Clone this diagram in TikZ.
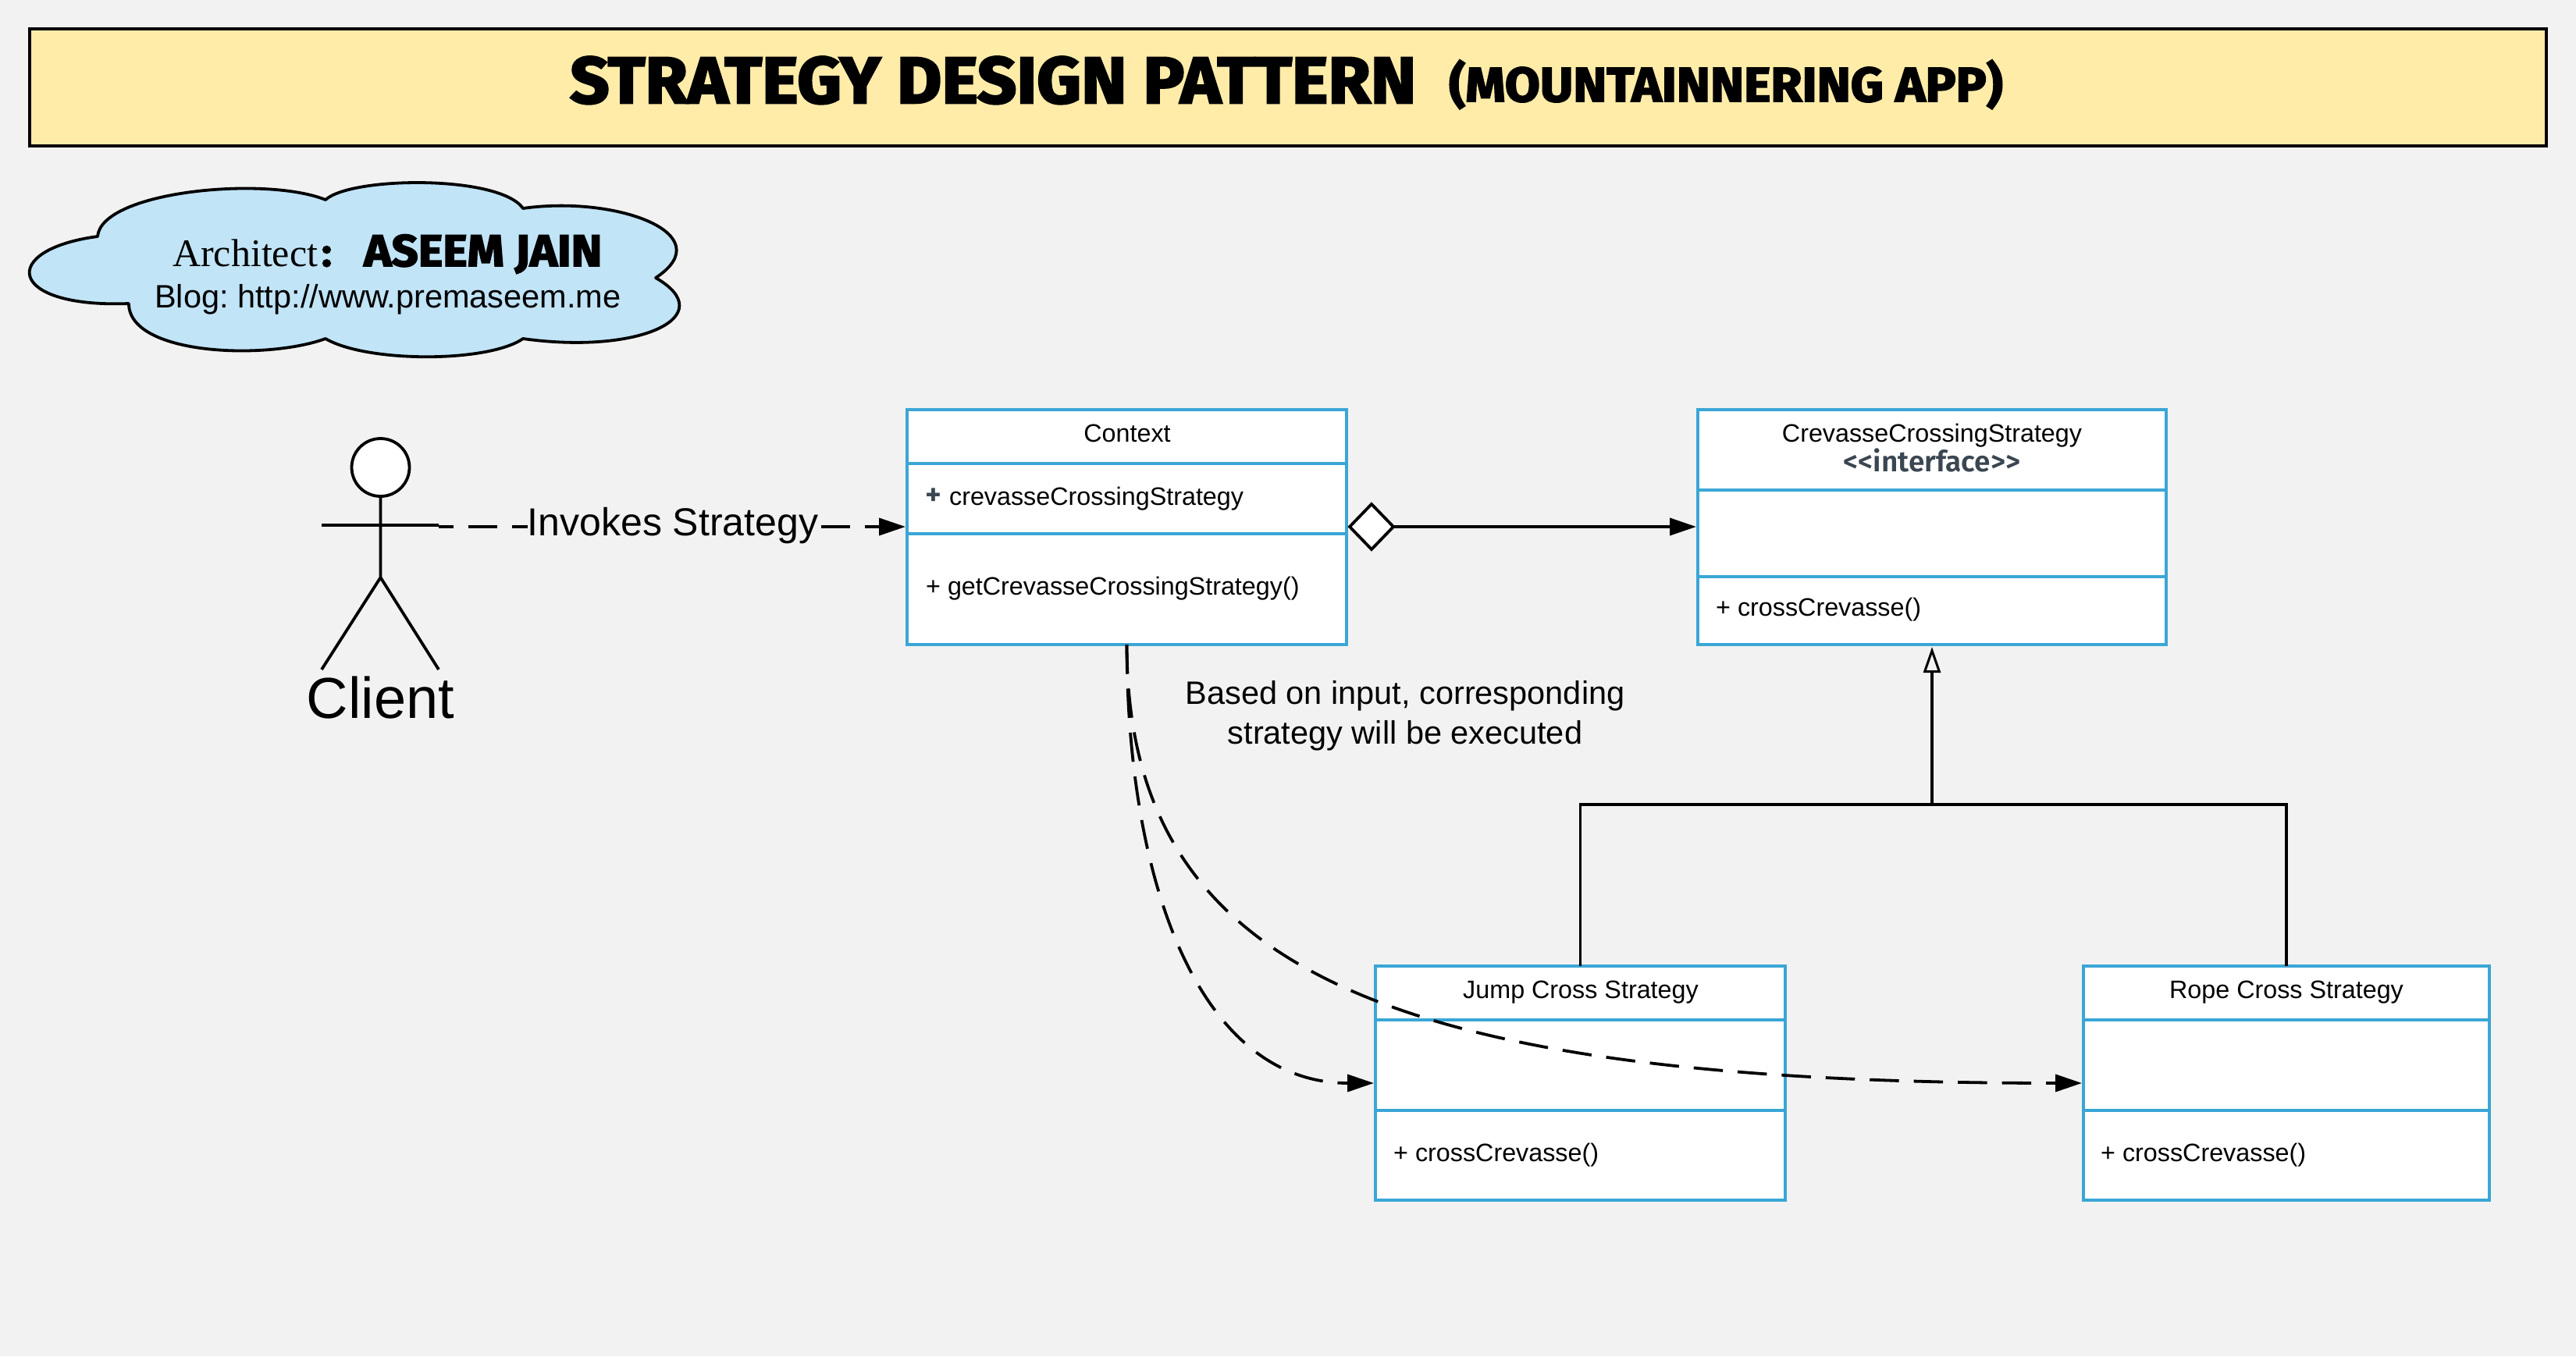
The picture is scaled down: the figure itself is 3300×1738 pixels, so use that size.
\documentclass[tikz,border=0pt]{standalone}
\usepackage{fontspec}
\setmainfont{Liberation Sans}
\newfontfamily\serifface{Liberation Serif}
\newfontfamily\comicface[FakeBold=3,FakeStretch=1.05]{Fira Sans Bold}
\newfontfamily\ifaceface{Fira Sans SemiBold}
\usetikzlibrary{arrows.meta,shapes.geometric}
\definecolor{pagebg}{HTML}{F2F2F2}
\definecolor{titlefill}{HTML}{FFECA9}
\definecolor{cloudfill}{HTML}{C1E4F7}
\definecolor{umlblue}{HTML}{3AA6D6}
\definecolor{slate}{HTML}{3A4651}
\newcommand{\fsz}[1]{\fontsize{#1}{#1}\selectfont}
\tikzset{
  x=1pt,y=-1pt,
  box/.style={draw=umlblue,line width=3.6pt,fill=white,inner sep=0pt,outer sep=0pt,anchor=north west},
  divider/.style={draw=umlblue,line width=3.2pt},
  blackline/.style={draw=black,line width=3.8pt},
  filledhead/.style={-{Triangle[length=34pt,width=22pt]},shorten >=2pt},
  hollowhead/.style={-{Triangle[open,length=33pt,width=22pt,line width=3pt]},shorten >=3pt},
  dashline/.style={blackline,dash pattern=on 37.5pt off 19pt},
  boxtext/.style={inner sep=0pt,anchor=base,font=\fsz{32.3}},
  leftboxtext/.style={boxtext,anchor=base west},
  notetext/.style={inner sep=0pt,anchor=base,font=\fsz{41.5}},
}
\begin{document}
\frenchspacing
\begin{tikzpicture}
\useasboundingbox (0,0) rectangle (3300,1738);
\fill[pagebg] (0,0) rectangle (3300,1738);
% title
\node[draw=black,line width=3.6pt,fill=titlefill,minimum width=3224pt,minimum height=150pt,inner sep=0pt,outer sep=0pt,anchor=north west] (title) at (38,37) {};
\node[inner sep=0pt,anchor=base west,font=\comicface\fsz{84}] (t1) at (730,132) {STRATEGY DESIGN PATTERN};
\node[inner sep=0pt,anchor=base west,font=\comicface\fsz{62}] (t2) at (1856,130) {(MOUNTAINNERING APP)};
% cloud
\draw[blackline,fill=cloudfill,line join=round]
  (125,303) .. controls (130,245) and (340,225) .. (417,256)
  .. controls (450,226) and (640,224) .. (670,267)
  .. controls (790,250) and (925,300) .. (840,356)
  .. controls (925,405) and (820,455) .. (670,434)
  .. controls (625,465) and (470,465) .. (417,434)
  .. controls (340,462) and (165,455) .. (165,389)
  .. controls (8,395) and (-2,320) .. (125,303) -- cycle;
\node[inner sep=0pt,anchor=base west,font=\serifface\fsz{50}] (arch) at (221,341) {Architect};
\node[inner sep=0pt,anchor=base west,font=\comicface\fsz{50}] (colon) at (412,341) {:};
\node[inner sep=0pt,anchor=base west,font=\comicface\fsz{57}] (jain) at (466,341) {ASEEM JAIN};
\node[inner sep=0pt,anchor=base west,font=\fsz{41.5}] (blog) at (198,394) {Blog: http://www.premaseem.me};
% client
\node[draw=black,line width=3.8pt,fill=white,circle,minimum size=74pt,inner sep=0pt,outer sep=0pt] (head) at (487.5,599) {};
\coordinate (hip) at (487.5,740);
\coordinate (armL) at (412,673);
\coordinate (armR) at (562,673);
\coordinate (legL) at (412,858);
\coordinate (legR) at (562,858);
\draw[blackline] (head.south) -- (hip) (armL) -- (armR) (legL) -- (hip) -- (legR);
\node[inner sep=0pt,anchor=base,font=\fsz{74}] (client) at (487.5,920) {Client};
% context
\node[box,minimum width=563pt,minimum height=301pt] (ctx) at (1162,525) {};
\draw[divider] (1162,594) -- (1725,594) (1162,684) -- (1725,684);
\node[boxtext] (ctxname) at (1444,566) {Context};
\node[leftboxtext] (ctxattr) at (1185,647) {\textcolor{slate}{\ifaceface\fontsize{40}{40}\selectfont +}\kern1pt\ crevasseCrossingStrategy};
\node[leftboxtext] (ctxop) at (1186,762) {+ getCrevasseCrossingStrategy()};
% interface
\node[box,minimum width=600pt,minimum height=301pt] (iface) at (2175,525) {};
\draw[divider] (2175,628) -- (2775,628) (2175,739) -- (2775,739);
\node[boxtext] (ifname) at (2475,566) {CrevasseCrossingStrategy};
\node[boxtext,text=slate,font=\ifaceface\fsz{37}] (ifster) at (2475,604) {<<interface>>};
\node[leftboxtext] (ifop) at (2198,789) {+ crossCrevasse()};
% jump
\node[box,minimum width=525pt,minimum height=300pt] (jump) at (1762,1238) {};
\draw[divider] (1762,1307) -- (2287,1307) (1762,1423) -- (2287,1423);
\node[boxtext] (jumpname) at (2025,1279) {Jump Cross Strategy};
\node[leftboxtext] (jumpop) at (1785,1488) {+ crossCrevasse()};
% rope
\node[box,minimum width=520pt,minimum height=300pt] (rope) at (2669,1238) {};
\draw[divider] (2669,1307) -- (3189,1307) (2669,1423) -- (3189,1423);
\node[boxtext] (ropename) at (2929,1279) {Rope Cross Strategy};
\node[leftboxtext] (ropeop) at (2691,1488) {+ crossCrevasse()};
% invoke
\coordinate (invStart) at (562,675);
\draw[dashline,dash phase=19pt,filledhead] (invStart) -- (ctx.west |- invStart);
\node[fill=pagebg,inner sep=0pt,anchor=base,font=\fsz{50}] (inv) at (862,686) {Invokes Strategy};
% aggregation
\node[diamond,draw=black,line width=3.8pt,fill=white,minimum width=56pt,minimum height=58pt,inner sep=0pt,outer sep=0pt] (dia) at (1757,675) {};
\draw[blackline,filledhead] (dia.east) -- (iface.west |- dia.east);
% inheritance
\coordinate (branch) at (2475,1031);
\draw[blackline] (jump.north) |- (branch) -| (rope.north);
\draw[blackline,hollowhead] (branch) -- (iface.south);
% dashed curves
\draw[dashline,filledhead] (ctx.south) .. controls (1444,1140) and (1540,1388) .. (jump.west);
\draw[dashline,filledhead] (ctx.south) .. controls (1444,1240) and (1770,1388) .. (rope.west);
\node[notetext] (n1) at (1800,902) {Based on input, corresponding};
\node[notetext] (n2) at (1800,953) {strategy will be executed};
\end{tikzpicture}
\end{document}
